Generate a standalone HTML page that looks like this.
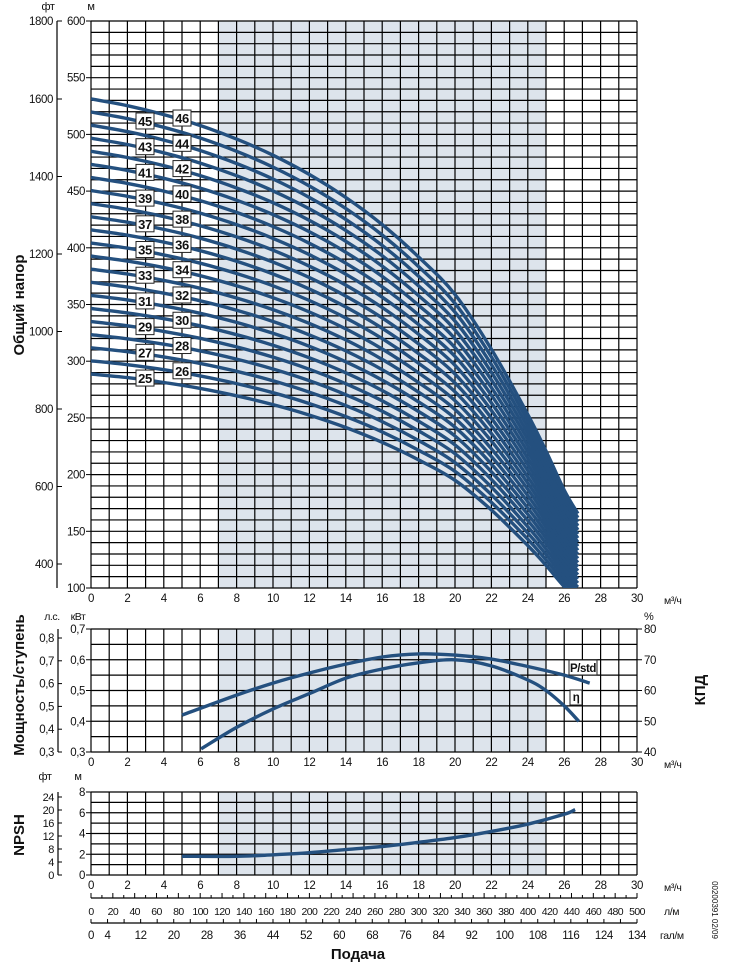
<!DOCTYPE html>
<html><head><meta charset="utf-8"><style>
html,body{margin:0;padding:0;background:#fff;}
svg{display:block;font-family:"Liberation Sans Narrow","Liberation Sans",sans-serif;}
</style></head><body>
<svg id="c" width="730" height="964" viewBox="0 0 730 964" xmlns="http://www.w3.org/2000/svg"></svg>
<script>
// ---- data ----
const stages = [25,26,27,28,29,30,31,32,33,34,35,36,37,38,39,40,41,42,43,44,45,46];
const headFlow = [0,2,4,6,8,10,12,14,16,18,20,22,24,25,26,26.75];
const headPerStage = [11.55,11.42,11.25,11.04,10.78,10.47,10.1,9.66,9.14,8.52,7.8,6.75,5.5,4.8,4.05,3.6];
const powerFlow = [5,8,10,12,14,16,18,20,22,24,26,27.4];
const powerKw = [0.42,0.485,0.524,0.557,0.586,0.609,0.619,0.615,0.602,0.578,0.55,0.524];
const effFlow = [6.05,8,10,12,14,16,18,20,22,24,25,26,26.8];
const effPct = [41,48,54,59,64,67,69,70,68,63.4,60,55,50];
const npshFlow = [5,8,10,12,14,16,18,20,22,24,26,26.6];
const npshM = [1.8,1.8,1.95,2.15,2.45,2.75,3.15,3.6,4.2,4.9,5.85,6.3];
const xTicks = [0,2,4,6,8,10,12,14,16,18,20,22,24,26,28,30];
const headTicks = [600,550,500,450,400,350,300,250,200,150,100];
const ftTicks = [1800,1600,1400,1200,1000,800,600,400];
const kwTicks = ["0,7","0,6","0,5","0,4","0,3"];
const hpTicks = ["0,8","0,7","0,6","0,5","0,4","0,3"];
const pctTicks = [80,70,60,50,40];
const npshTicks = [8,6,4,2,0];
const npshFtTicks = [24,20,16,12,8,4,0];
const lpmTicks = [0,20,40,60,80,100,120,140,160,180,200,220,240,260,280,300,320,340,360,380,400,420,440,460,480,500];
const galTicks = [0,4,12,20,28,36,44,52,60,68,76,84,92,100,108,116,124,132];
const galLabels = ["0","4","12","20","28","36","44","52","60","68","76","84","92","100","108","116","124","134"];

const NS="http://www.w3.org/2000/svg";
const svg=document.getElementById('c');
function el(tag,attrs,parent){const e=document.createElementNS(NS,tag);for(const k in attrs)e.setAttribute(k,attrs[k]);(parent||svg).appendChild(e);return e;}
function txt(s,x,y,attrs,parent){const t=el('text',Object.assign({x:x,y:y,'font-size':11.5,fill:'#111','letter-spacing':-0.4},attrs||{}),parent);t.textContent=s;return t;}
const X0=91,X1=637;
const sx=q=>X0+q*(X1-X0)/30;
const syH=h=>21+(600-h)*(588-21)/500;
const syP=p=>629+(0.7-p)*(752-629)/0.4;
const syE=e=>629+(80-e)*(752-629)/40;
const syN=n=>792+(8-n)*(875-792)/8;
const CURVE='#24507f';

function grid(name,top,bot,nh){
  const g=el('g',{});
  
  
  el('rect',{x:sx(7),y:top,width:sx(25)-sx(7),height:bot-top,fill:'#dde4ec'},g);
  for(let i=0;i<=30;i++) el('line',{x1:sx(i),x2:sx(i),y1:top,y2:bot,stroke:'#000','stroke-width':1.2},g);
  for(let j=0;j<=nh;j++){const y=top+(bot-top)*j/nh;el('line',{x1:X0,x2:X1,y1:y,y2:y,stroke:'#000','stroke-width':1.2},g);}
  const xl=el('g',{});
  
  
  xTicks.forEach(q=>txt(String(q),sx(q),bot+14,{'text-anchor':'middle'},xl));
  txt('м³/ч',664,bot+16,{'font-size':10.5},xl);
}
function smoothPath(pts){let d='M'+pts[0][0].toFixed(1)+' '+pts[0][1].toFixed(1);
  for(let i=0;i<pts.length-1;i++){const p0=pts[i-1]||pts[i],p1=pts[i],p2=pts[i+1],p3=pts[i+2]||p2;
    const c1x=p1[0]+(p2[0]-p0[0])/6,c1y=p1[1]+(p2[1]-p0[1])/6,c2x=p2[0]-(p3[0]-p1[0])/6,c2y=p2[1]-(p3[1]-p1[1])/6;
    d+=` C${c1x.toFixed(1)} ${c1y.toFixed(1)} ${c2x.toFixed(1)} ${c2y.toFixed(1)} ${p2[0].toFixed(1)} ${p2[1].toFixed(1)}`;}
  return d;}

// ---- head chart ----
grid('head-grid',21,588,50);
const clip=el('clipPath',{id:'hc'});el('rect',{x:X0,y:21,width:X1-X0,height:567},clip);
const curves=el('g',{'clip-path':'url(#hc)'});


function hAt(q){for(let i=0;i<headFlow.length-1;i++){if(q<=headFlow[i+1]){const t=(q-headFlow[i])/(headFlow[i+1]-headFlow[i]);return headPerStage[i]+t*(headPerStage[i+1]-headPerStage[i]);}}return headPerStage[headPerStage.length-1];}
stages.forEach(n=>{
  const pts=headFlow.map((q,i)=>[sx(q),syH(headPerStage[i]*n)]);
  const p=el('path',{d:smoothPath(pts),fill:'none',stroke:CURVE,'stroke-width':3.4},curves);
  
  
});
stages.forEach(n=>{
  const odd=n%2===1; const q=odd?3:5;
  const cx=odd?145:182; const cy=syH(hAt(q)*n)-2;
  const g=el('g',{});
  
  
  el('rect',{x:cx-9,y:cy-8,width:18,height:16,fill:'#fff',stroke:'#222','stroke-width':1},g);
  txt(String(n),cx,cy+5,{'text-anchor':'middle','font-weight':'bold','font-size':13},g);
});
// head axes
const ha=el('g',{});


headTicks.forEach(h=>{el('line',{x1:86,x2:X0,y1:syH(h),y2:syH(h),stroke:'#000'},ha);txt(String(h),85,syH(h)+4,{'text-anchor':'end'},ha);});
txt('м',91,10,{'text-anchor':'middle','font-size':11},ha);
const fa=el('g',{});


el('line',{x1:57,x2:57,y1:21,y2:588,stroke:'#000','stroke-width':1.2},fa);
ftTicks.forEach((f,i)=>{const y=i===0?21:99+(1600-f)*(77.5/200);el('line',{x1:57,x2:62,y1:y,y2:y,stroke:'#000'},fa);txt(String(f),53,y+4,{'text-anchor':'end'},fa);});
txt('фт',48,10,{'text-anchor':'middle','font-size':11},fa);
const t1=txt('Общий напор',0,0,{'font-size':15,'font-weight':'bold','text-anchor':'middle','letter-spacing':0,transform:'translate(24,305) rotate(-90)','font-family':'Liberation Sans, sans-serif'});


// ---- power / efficiency chart ----
grid('power-grid',629,752,8);
const pw=el('path',{d:smoothPath(powerFlow.map((q,i)=>[sx(q),syP(powerKw[i])])),fill:'none',stroke:CURVE,'stroke-width':3.4});

const ef=el('path',{d:smoothPath(effFlow.map((q,i)=>[sx(q),syE(effPct[i])])),fill:'none',stroke:CURVE,'stroke-width':3.4});

const pl=el('g',{});
el('rect',{x:569,y:660,width:28,height:15,fill:'#fff',stroke:'#222'},pl);txt('P/std',583,672,{'text-anchor':'middle','font-weight':'bold'},pl);
const elb=el('g',{});
el('rect',{x:570,y:690,width:12,height:15,fill:'#fff',stroke:'#222'},elb);txt('η',576,701,{'text-anchor':'middle','font-weight':'bold'},elb);
const ka=el('g',{});
kwTicks.forEach((s,i)=>{const y=629+i*123/4;el('line',{x1:86,x2:X0,y1:y,y2:y,stroke:'#000'},ka);txt(s,85,y+4,{'text-anchor':'end'},ka);});
txt('кВт',78,620,{'text-anchor':'middle','font-size':10.5},ka);
const hpa=el('g',{});
el('line',{x1:58,x2:58,y1:629,y2:752,stroke:'#000','stroke-width':1.2},hpa);
hpTicks.forEach((s,i)=>{const y=638+i*22.8;el('line',{x1:58,x2:62,y1:y,y2:y,stroke:'#000'},hpa);txt(s,54,y+4,{'text-anchor':'end'},hpa);});
txt('л.с.',52,620,{'text-anchor':'middle','font-size':10.5},hpa);
const pa=el('g',{});
pctTicks.forEach(p=>{const y=syE(p);el('line',{x1:X1,x2:X1+5,y1:y,y2:y,stroke:'#000'},pa);txt(String(p),644,y+4,{},pa);});
txt('%',644,620,{'font-size':11},pa);
const t2=txt('Мощность/ступень',0,0,{'font-size':15,'font-weight':'bold','text-anchor':'middle','letter-spacing':0,transform:'translate(24,685) rotate(-90)','font-family':'Liberation Sans, sans-serif'});

const t3=txt('КПД',0,0,{'font-size':15,'font-weight':'bold','text-anchor':'middle','letter-spacing':0,transform:'translate(705,690) rotate(-90)','font-family':'Liberation Sans, sans-serif'});


// ---- NPSH chart ----
grid('npsh-grid',792,875,8);
const np=el('path',{d:smoothPath(npshFlow.map((q,i)=>[sx(q),syN(npshM[i])])),fill:'none',stroke:CURVE,'stroke-width':3.4});

const na=el('g',{});
npshTicks.forEach(v=>{const y=syN(v);el('line',{x1:86,x2:X0,y1:y,y2:y,stroke:'#000'},na);txt(String(v),85,y+4,{'text-anchor':'end'},na);});
txt('м',78,780,{'text-anchor':'middle','font-size':11},na);
const nfa=el('g',{});
el('line',{x1:58,x2:58,y1:792,y2:875,stroke:'#000','stroke-width':1.2},nfa);
npshFtTicks.forEach(v=>{const y=875-v*(78/24);el('line',{x1:58,x2:62,y1:y,y2:y,stroke:'#000'},nfa);txt(String(v),54,y+4,{'text-anchor':'end','font-size':11},nfa);});
txt('фт',45,780,{'text-anchor':'middle','font-size':11},nfa);
const t4=txt('NPSH',0,0,{'font-size':15,'font-weight':'bold','text-anchor':'middle','letter-spacing':0,transform:'translate(24,835) rotate(-90)','font-family':'Liberation Sans, sans-serif'});


// ---- secondary flow axes ----
const la=el('g',{});
el('line',{x1:X0,x2:X1,y1:898,y2:898,stroke:'#000','stroke-width':1.3},la);
lpmTicks.forEach(v=>{const x=sx(v*0.06);el('line',{x1:x,x2:x,y1:893,y2:898,stroke:'#000'},la);txt(String(v),x,915,{'text-anchor':'middle','font-size':10.5,'letter-spacing':-0.6},la);});
for(let v=10;v<500;v+=20){const x=sx(v*0.06);el('line',{x1:x,x2:x,y1:895,y2:898,stroke:'#000'},la);}
txt('л/м',664,915,{'font-size':10.5},la);
const ga=el('g',{});
el('line',{x1:X0,x2:X1,y1:923,y2:923,stroke:'#000','stroke-width':1.3},ga);
for(let v=0;v<=132;v+=4){const x=X0+v*(X1-X0)/132;el('line',{x1:x,x2:x,y1:919,y2:923,stroke:'#000'},ga);}
galTicks.forEach((v,i)=>{const x=X0+v*(X1-X0)/132;txt(galLabels[i],x,939,{'text-anchor':'middle'},ga);});
txt('гал/м',660,939,{'font-size':10.5},ga);
const t5=txt('Подача',358,959,{'font-size':15,'font-weight':'bold','text-anchor':'middle','letter-spacing':0,'font-family':'Liberation Sans, sans-serif'});

const t6=txt('00200391 02/09',0,0,{'font-size':8,'text-anchor':'middle','letter-spacing':0,transform:'translate(712,910) rotate(90)'});

</script>
</body></html>
